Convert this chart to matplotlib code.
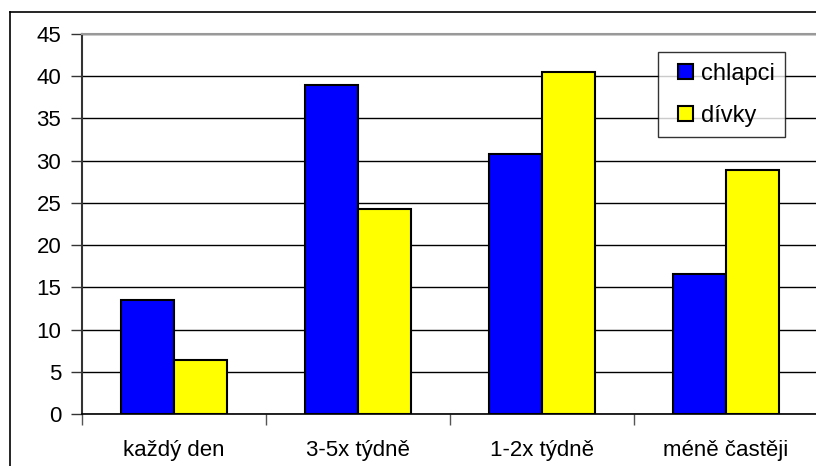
import matplotlib
matplotlib.use("Agg")
import matplotlib.pyplot as plt
import numpy as np
from matplotlib.lines import Line2D
from matplotlib.patches import Rectangle
from matplotlib.legend_handler import HandlerPatch

plt.rcParams['font.family'] = ['Liberation Sans', 'DejaVu Sans']

# data
kategorie = ['každý den', '3-5x týdně', '1-2x týdně', 'méně častěji']
chlapci = [13.5, 39.0, 30.8, 16.6]
divky = [6.4, 24.3, 40.5, 28.9]
y_ticks = [0, 5, 10, 15, 20, 25, 30, 35, 40, 45]

W, H = 816, 466
fig = plt.figure(figsize=(W / 100, H / 100), dpi=100)

# plot area in pixel units
left, right, top, bottom = 82, 818, 34, 414
ax = fig.add_axes([left / W, 1 - bottom / H, (right - left) / W, (bottom - top) / H])

x = np.arange(len(kategorie))
bw = 0.29
ax.bar(x - bw / 2, chlapci, bw, color='#0000ff', edgecolor='black', linewidth=1.5,
       label='chlapci', zorder=3)
ax.bar(x + bw / 2, divky, bw, color='#ffff00', edgecolor='black', linewidth=1.5,
       label='dívky', zorder=3)

ax.set_xlim(-0.5, len(kategorie) - 0.5)
ax.set_ylim(0, 45)
ax.set_yticks(y_ticks)
ax.set_yticklabels([str(v) for v in y_ticks])
ax.yaxis.grid(True, color='black', linewidth=1.0, zorder=0)

# category ticks between groups
ax.set_xticks(x)
ax.set_xticklabels(kategorie)
ax.set_xticks(np.arange(-0.5, len(kategorie), 1.0), minor=True)
ax.tick_params(axis='x', which='major', length=0, pad=19, labelsize=16)
ax.tick_params(axis='x', which='minor', length=8, width=1, color='#555555', direction='out')
ax.tick_params(axis='y', length=8, width=1, color='#333333', pad=7, labelsize=16)

for s in ['right', 'bottom']:
    ax.spines[s].set_visible(False)
ax.spines['top'].set_color('#999999')
ax.spines['top'].set_linewidth(1.5)
ax.spines['left'].set_color('#333333')
ax.spines['left'].set_linewidth(1.5)
ax.axhline(0, color='black', linewidth=1.2, zorder=4, clip_on=False)


# small square legend keys, right-aligned in the handle box
def ctverec(legend, orig_handle, xdescent, ydescent, width, height, fontsize):
    s = 10.8
    return Rectangle((-xdescent + width - s, -ydescent + (height - s) / 2), s, s)


handles = [Rectangle((0, 0), 1, 1, facecolor='#0000ff', edgecolor='black', linewidth=1.5),
           Rectangle((0, 0), 1, 1, facecolor='#ffff00', edgecolor='black', linewidth=1.5)]
leg = ax.legend(handles, ['chlapci', 'dívky'],
                loc='upper left', bbox_to_anchor=(658 / W, 1 - 52 / H),
                bbox_transform=fig.transFigure, borderaxespad=0, fontsize=17,
                frameon=True, fancybox=False, handlelength=1.02, handleheight=0.64,
                handletextpad=0.34, labelspacing=0.85, borderpad=0.45,
                handler_map={Rectangle: HandlerPatch(patch_func=ctverec)})
leg.get_frame().set_edgecolor('black')
leg.get_frame().set_linewidth(1.0)

# outer chart frame (cropped at right and bottom)
fig.add_artist(Line2D([10 / W, 10 / W], [0, 1 - 12 / H], color='black', linewidth=1.2,
                      transform=fig.transFigure))
fig.add_artist(Line2D([10 / W, 1], [1 - 12 / H, 1 - 12 / H], color='black', linewidth=1.2,
                      transform=fig.transFigure))

plt.savefig('out.png', dpi=100)
